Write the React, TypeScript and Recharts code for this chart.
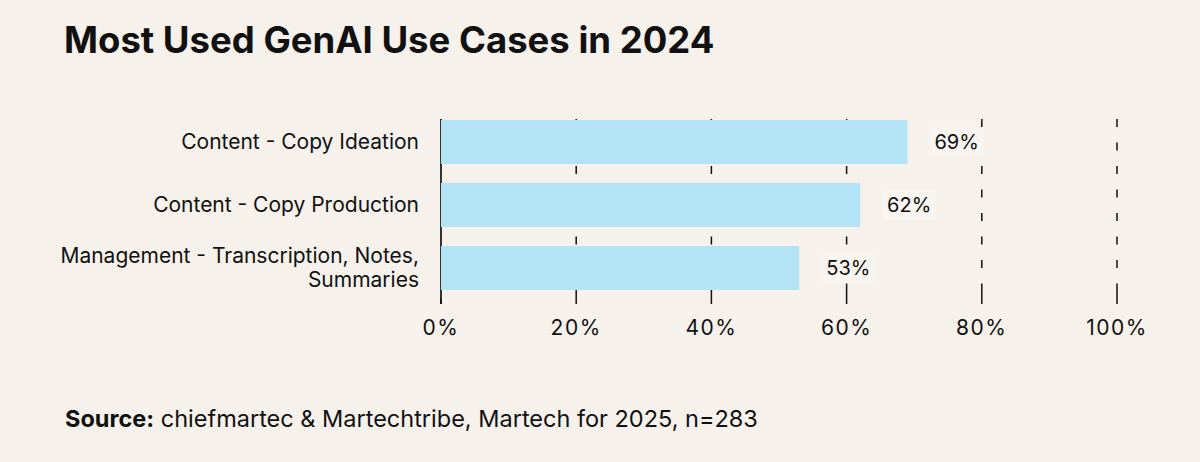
import React from 'react';
import { BarChart, Bar, XAxis, YAxis, CartesianGrid, LabelList } from 'recharts';

const categories = [
  'Content - Copy Ideation',
  'Content - Copy Production',
  'Management - Transcription, Notes, Summaries',
];
const values = [69, 62, 53];
const xTicks = [0, 20, 40, 60, 80, 100];

const data = categories.map((name, i) => ({ name, value: values[i] }));

const FONT = 'Inter, "Noto Sans", sans-serif';
const BG = '#f6f1eb';
const BAR = '#b2e4f5';
const INK = '#111111';
const CAT_FS = 21;
const CAT_LH = 24;
const CAT_MAX_W = 400;

let measureCtx: CanvasRenderingContext2D | null = null;
const measure = (s: string) => {
  if (!measureCtx) {
    const c = document.createElement('canvas');
    measureCtx = c.getContext('2d');
  }
  if (!measureCtx) return s.length * CAT_FS * 0.5;
  measureCtx.font = `${CAT_FS}px Inter`;
  return measureCtx.measureText(s).width;
};

const wrap = (s: string) => {
  const words = s.split(' ');
  const lines: string[] = [];
  let cur = '';
  words.forEach((w) => {
    const next = cur ? `${cur} ${w}` : w;
    if (cur && measure(next) > CAT_MAX_W) {
      lines.push(cur);
      cur = w;
    } else {
      cur = next;
    }
  });
  if (cur) lines.push(cur);
  return lines;
};

const gridLine = (props: any) => {
  const { x1, y1, x2, y2, index } = props;
  const top = Math.min(y1, y2);
  const bottom = Math.max(y1, y2);
  if (index === 0) {
    return (
      <line key={`g${index}`} x1={x1} x2={x2} y1={top + 9} y2={bottom + 5} stroke="#333" strokeWidth={2} />
    );
  }
  return (
    <line
      key={`g${index}`}
      x1={x1}
      x2={x2}
      y1={top}
      y2={bottom}
      stroke={INK}
      strokeWidth={1.5}
      strokeDasharray="0 9 8 15.5 8 15.5 8 15.5 8 15.5 8 15.5 8 15.5 8 15.5 40 100"
    />
  );
};

const CategoryTick = (props: any) => {
  const { x, y, payload } = props;
  const lines = wrap(String(payload.value));
  const first = y - ((lines.length - 1) * CAT_LH) / 2 + CAT_FS * 0.36;
  return (
    <text x={x} y={first} textAnchor="end" fontSize={CAT_FS} fontFamily={FONT} fill={INK}>
      {lines.map((l, i) => (
        <tspan key={i} x={x} y={first + i * CAT_LH}>
          {l}
        </tspan>
      ))}
    </text>
  );
};

const ValueLabel = (props: any) => {
  const { x, y, width, height, value } = props;
  const end = x + width;
  const cy = y + height / 2;
  return (
    <g>
      <rect x={end + 22} y={cy - 15} width={54} height={30} fill="#f8f5f0" />
      <text x={end + 27} y={cy} dominantBaseline="central" fontSize={20} fontFamily={FONT} fill={INK}>
        {`${value}%`}
      </text>
    </g>
  );
};

export default function App() {
  return (
    <div style={{ position: 'fixed', left: 0, top: 0, width: 1200, height: 462, background: BG, overflow: 'hidden' }}>
      <div
        style={{
          position: 'absolute',
          left: 64,
          top: 22,
          fontFamily: FONT,
          fontWeight: 700,
          fontSize: 36.5,
          lineHeight: '36px',
          color: INK,
          whiteSpace: 'nowrap',
        }}
      >
        Most Used GenAI Use Cases in 2024
      </div>
      <div style={{ position: 'absolute', left: 0, top: 0 }}>
        <BarChart
          width={1200}
          height={350}
          layout="vertical"
          data={data}
          margin={{ top: 110, right: 83, bottom: 11, left: 0 }}
        >
          <CartesianGrid horizontal={false} vertical={gridLine} />
          <XAxis
            type="number"
            domain={[0, 100]}
            ticks={xTicks}
            tickFormatter={(v: number) => `${v}%`}
            axisLine={false}
            tickLine={{ stroke: INK, strokeWidth: 1.5 }}
            tickSize={5}
            tickMargin={16}
            height={40}
            tick={{ fontSize: 21, fill: INK, fontFamily: FONT, letterSpacing: 1.5 }}
          />
          <YAxis
            type="category"
            dataKey="name"
            width={441}
            axisLine={false}
            tickLine={false}
            tickSize={6}
            tickMargin={16}
            tick={<CategoryTick />}
          />
          <Bar dataKey="value" fill={BAR} barSize={44} isAnimationActive={false}>
            <LabelList dataKey="value" content={<ValueLabel />} />
          </Bar>
        </BarChart>
      </div>
      <div
        style={{
          position: 'absolute',
          left: 65,
          top: 407,
          fontFamily: FONT,
          fontSize: 23.5,
          lineHeight: '24px',
          color: INK,
          whiteSpace: 'nowrap',
        }}
      >
        <b>Source:</b> chiefmartec &amp; Martechtribe, Martech for 2025, n=283
      </div>
    </div>
  );
}
